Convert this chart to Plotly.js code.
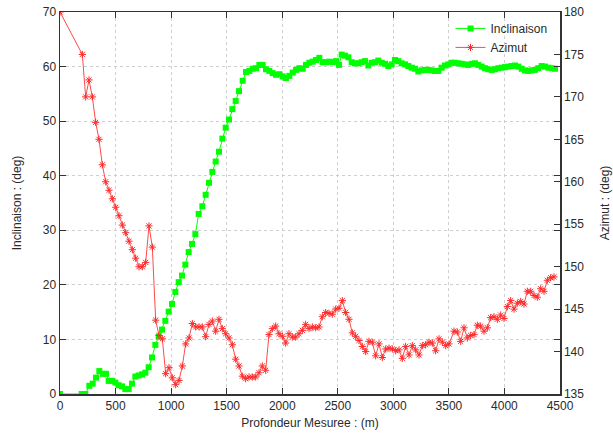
<!DOCTYPE html>
<html>
<head>
<meta charset="utf-8">
<script src="https://cdn.plot.ly/plotly-3.0.1.min.js"></script>
<style>html,body{margin:0;padding:0;background:#fff;}#chart{width:613px;height:434px;}</style>
</head>
<body>
<div id="chart"></div>
<script>
// Inclinaison (deg) vs measured depth (m)
const incDepth = [0, 195, 228, 264, 294, 324, 354, 384, 414, 438, 468, 498, 528, 558, 588, 618, 648, 678, 708, 738, 768, 798, 828, 858, 888, 918, 948, 978, 1008, 1038, 1068, 1098, 1128, 1158, 1188, 1218, 1248, 1281, 1311, 1341, 1371, 1401, 1431, 1461, 1491, 1521, 1551, 1581, 1611, 1644, 1674, 1704, 1734, 1764, 1794, 1824, 1854, 1884, 1914, 1944, 1974, 2004, 2034, 2064, 2094, 2124, 2154, 2184, 2214, 2244, 2274, 2304, 2334, 2364, 2394, 2424, 2454, 2484, 2511, 2535, 2565, 2595, 2625, 2655, 2685, 2715, 2745, 2775, 2805, 2835, 2865, 2895, 2925, 2955, 2985, 3015, 3045, 3075, 3105, 3135, 3165, 3195, 3225, 3255, 3285, 3315, 3345, 3375, 3405, 3435, 3465, 3495, 3525, 3555, 3585, 3615, 3645, 3675, 3705, 3735, 3765, 3795, 3825, 3855, 3885, 3915, 3945, 3975, 4005, 4035, 4065, 4095, 4125, 4155, 4185, 4215, 4245, 4275, 4305, 4335, 4365, 4395, 4425, 4455];
const incValue = [0, 0, 0, 1.5, 1.9, 3.0, 4.2, 3.7, 3.7, 2.4, 2.4, 2.1, 1.6, 1.4, 0.9, 0.9, 1.9, 3.2, 3.4, 3.6, 3.9, 4.9, 6.7, 9.0, 10.5, 11.8, 13.4, 15.1, 16.5, 18.7, 20.5, 21.7, 23.7, 26.0, 27.5, 29.3, 33.0, 34.4, 36.5, 38.7, 40.7, 42.6, 44.4, 46.8, 48.8, 50.3, 52.2, 53.7, 55.5, 57.4, 59.0, 59.2, 59.6, 59.7, 60.3, 60.3, 59.5, 59.2, 58.8, 58.5, 58.6, 58.2, 57.9, 58.3, 58.9, 59.4, 59.7, 59.6, 60.3, 60.7, 60.9, 61.2, 61.6, 60.8, 60.8, 60.9, 60.8, 61.0, 60.3, 62.2, 62.0, 61.7, 60.8, 60.6, 60.6, 60.8, 61.0, 60.2, 60.7, 60.8, 61.1, 60.7, 60.5, 60.1, 60.4, 61.2, 61.0, 60.6, 60.4, 60.1, 59.8, 59.6, 59.1, 59.3, 59.4, 59.4, 59.3, 59.2, 59.2, 59.8, 60.2, 60.4, 60.7, 60.7, 60.6, 60.5, 60.4, 60.3, 60.5, 60.6, 60.3, 60.0, 59.7, 59.5, 59.4, 59.5, 59.7, 59.8, 59.9, 60.0, 60.1, 60.2, 60.0, 59.6, 59.3, 59.2, 59.3, 59.4, 59.7, 60.1, 60.0, 59.8, 59.7, 59.6];

// Azimut (deg) vs measured depth (m)
const azDepth = [0, 201, 231, 261, 291, 321, 351, 381, 411, 441, 471, 501, 531, 561, 591, 621, 651, 681, 711, 741, 771, 801, 831, 861, 891, 921, 951, 981, 1011, 1041, 1071, 1101, 1131, 1161, 1191, 1221, 1251, 1281, 1311, 1341, 1371, 1401, 1431, 1461, 1491, 1521, 1551, 1581, 1611, 1641, 1671, 1701, 1731, 1761, 1791, 1821, 1851, 1881, 1911, 1941, 1971, 2001, 2031, 2061, 2091, 2121, 2151, 2181, 2211, 2241, 2271, 2301, 2331, 2361, 2391, 2421, 2451, 2481, 2511, 2541, 2571, 2601, 2631, 2661, 2691, 2721, 2751, 2781, 2811, 2841, 2871, 2901, 2931, 2961, 2991, 3021, 3051, 3081, 3111, 3141, 3171, 3201, 3231, 3261, 3291, 3321, 3351, 3381, 3411, 3441, 3471, 3501, 3546, 3576, 3606, 3636, 3666, 3696, 3726, 3756, 3786, 3816, 3846, 3876, 3906, 3936, 3966, 3996, 4026, 4056, 4086, 4116, 4146, 4176, 4206, 4236, 4266, 4296, 4326, 4356, 4386, 4416, 4446];
const azValue = [180, 175.0, 170.0, 172.0, 170.0, 167.0, 165.0, 162.0, 160.0, 159.0, 158.0, 157.0, 156.0, 154.9, 154.0, 153.0, 152.0, 151.0, 150.0, 150.0, 150.5, 154.8, 152.3, 143.7, 141.9, 141.5, 137.4, 138.1, 136.9, 136.1, 136.6, 138.3, 140.9, 141.6, 143.3, 142.9, 142.9, 142.9, 141.75, 143.2, 143.6, 142.4, 143.8, 142.7, 142.1, 141.6, 140.8, 139.1, 138.3, 137.1, 136.8, 137.0, 137.0, 137.0, 137.5, 138.3, 137.8, 142.0, 142.7, 143.0, 142.1, 141.8, 141.0, 142.1, 141.7, 141.7, 142.1, 142.5, 143.2, 142.7, 142.9, 142.8, 142.9, 144.1, 144.6, 144.5, 144.4, 145.0, 145.1, 146.0, 144.6, 143.8, 142.2, 141.8, 141.3, 140.6, 140.0, 141.2, 141.1, 139.5, 140.9, 139.3, 140.3, 140.4, 140.3, 140.1, 140.2, 139.2, 140.6, 139.6, 140.7, 140.2, 139.6, 140.7, 140.8, 141.1, 141.0, 140.1, 141.5, 141.1, 140.7, 140.9, 142.4, 142.3, 141.2, 142.8, 141.6, 141.9, 142.0, 143.1, 143.0, 142.4, 142.8, 144.0, 144.1, 143.8, 144.3, 143.9, 145.3, 146.0, 145.0, 145.7, 145.9, 145.6, 147.1, 147.1, 146.6, 146.4, 147.4, 147.1, 148.4, 148.7, 148.8];

const xTicks = [0, 500, 1000, 1500, 2000, 2500, 3000, 3500, 4000, 4500];
const seriesNames = ["Inclinaison", "Azimut"];

const FONT = "Liberation Sans, Arial, sans-serif";
const axisCol = "#333333";
const gridCol = "#cfcfcf";
const textCol = "#2a2a2a";

const traces = [
  {
    x: incDepth, y: incValue, name: seriesNames[0], type: "scatter", mode: "lines+markers",
    line: {color: "#00ff00", width: 1},
    marker: {symbol: "square", size: 6, color: "#00ff00"},
    xaxis: "x", yaxis: "y"
  },
  {
    x: azDepth, y: azValue, name: seriesNames[1], type: "scatter", mode: "lines+markers",
    line: {color: "#ff4a4a", width: 1},
    marker: {symbol: "asterisk-open", size: 6, color: "#ff2a2a", line: {color: "#ff2a2a", width: 1}},
    xaxis: "x", yaxis: "y2"
  }
];

const layout = {
  width: 613, height: 434,
  margin: {l: 60, r: 53, t: 12, b: 40},
  paper_bgcolor: "#ffffff", plot_bgcolor: "#ffffff",
  font: {family: FONT, size: 12, color: textCol},
  showlegend: true,
  legend: {x: 0.985, y: 0.995, xanchor: "right", yanchor: "top", bgcolor: "rgba(0,0,0,0)",
           font: {family: FONT, size: 12, color: textCol}, tracegroupgap: 0, itemwidth: 30},
  xaxis: {
    range: [0, 4500], tickvals: xTicks, ticktext: xTicks.map(String),
    showgrid: true, gridcolor: gridCol, griddash: "dot", gridwidth: 1,
    zeroline: false, showline: true, linecolor: axisCol, linewidth: 1.5, mirror: "ticks",
    ticks: "inside", ticklen: 6, tickcolor: axisCol,
    tickfont: {family: FONT, size: 12, color: textCol},
    title: {text: "Profondeur Mesuree : (m)", font: {family: FONT, size: 12, color: textCol}, standoff: 6},
    automargin: false
  },
  yaxis: {
    range: [0, 70], dtick: 10, tick0: 0,
    showgrid: true, gridcolor: gridCol, griddash: "dot", gridwidth: 1,
    zeroline: false, showline: true, linecolor: axisCol, linewidth: 1.5, mirror: "ticks",
    ticks: "inside", ticklen: 6, tickcolor: axisCol,
    tickfont: {family: FONT, size: 12, color: textCol},
    title: {text: "Inclinaison : (deg)", font: {family: FONT, size: 12, color: textCol}, standoff: 18},
    automargin: false
  },
  yaxis2: {
    range: [135, 180], dtick: 5, tick0: 135, overlaying: "y", side: "right",
    showgrid: false, zeroline: false, showline: true, linecolor: axisCol, linewidth: 1.5,
    ticks: "inside", ticklen: 6, tickcolor: axisCol,
    tickfont: {family: FONT, size: 12, color: textCol},
    title: {text: "Azimut : (deg)", font: {family: FONT, size: 12, color: textCol}, standoff: 17},
    automargin: false
  }
};

Plotly.newPlot("chart", traces, layout, {displayModeBar: false, staticPlot: true});
</script>
</body>
</html>
